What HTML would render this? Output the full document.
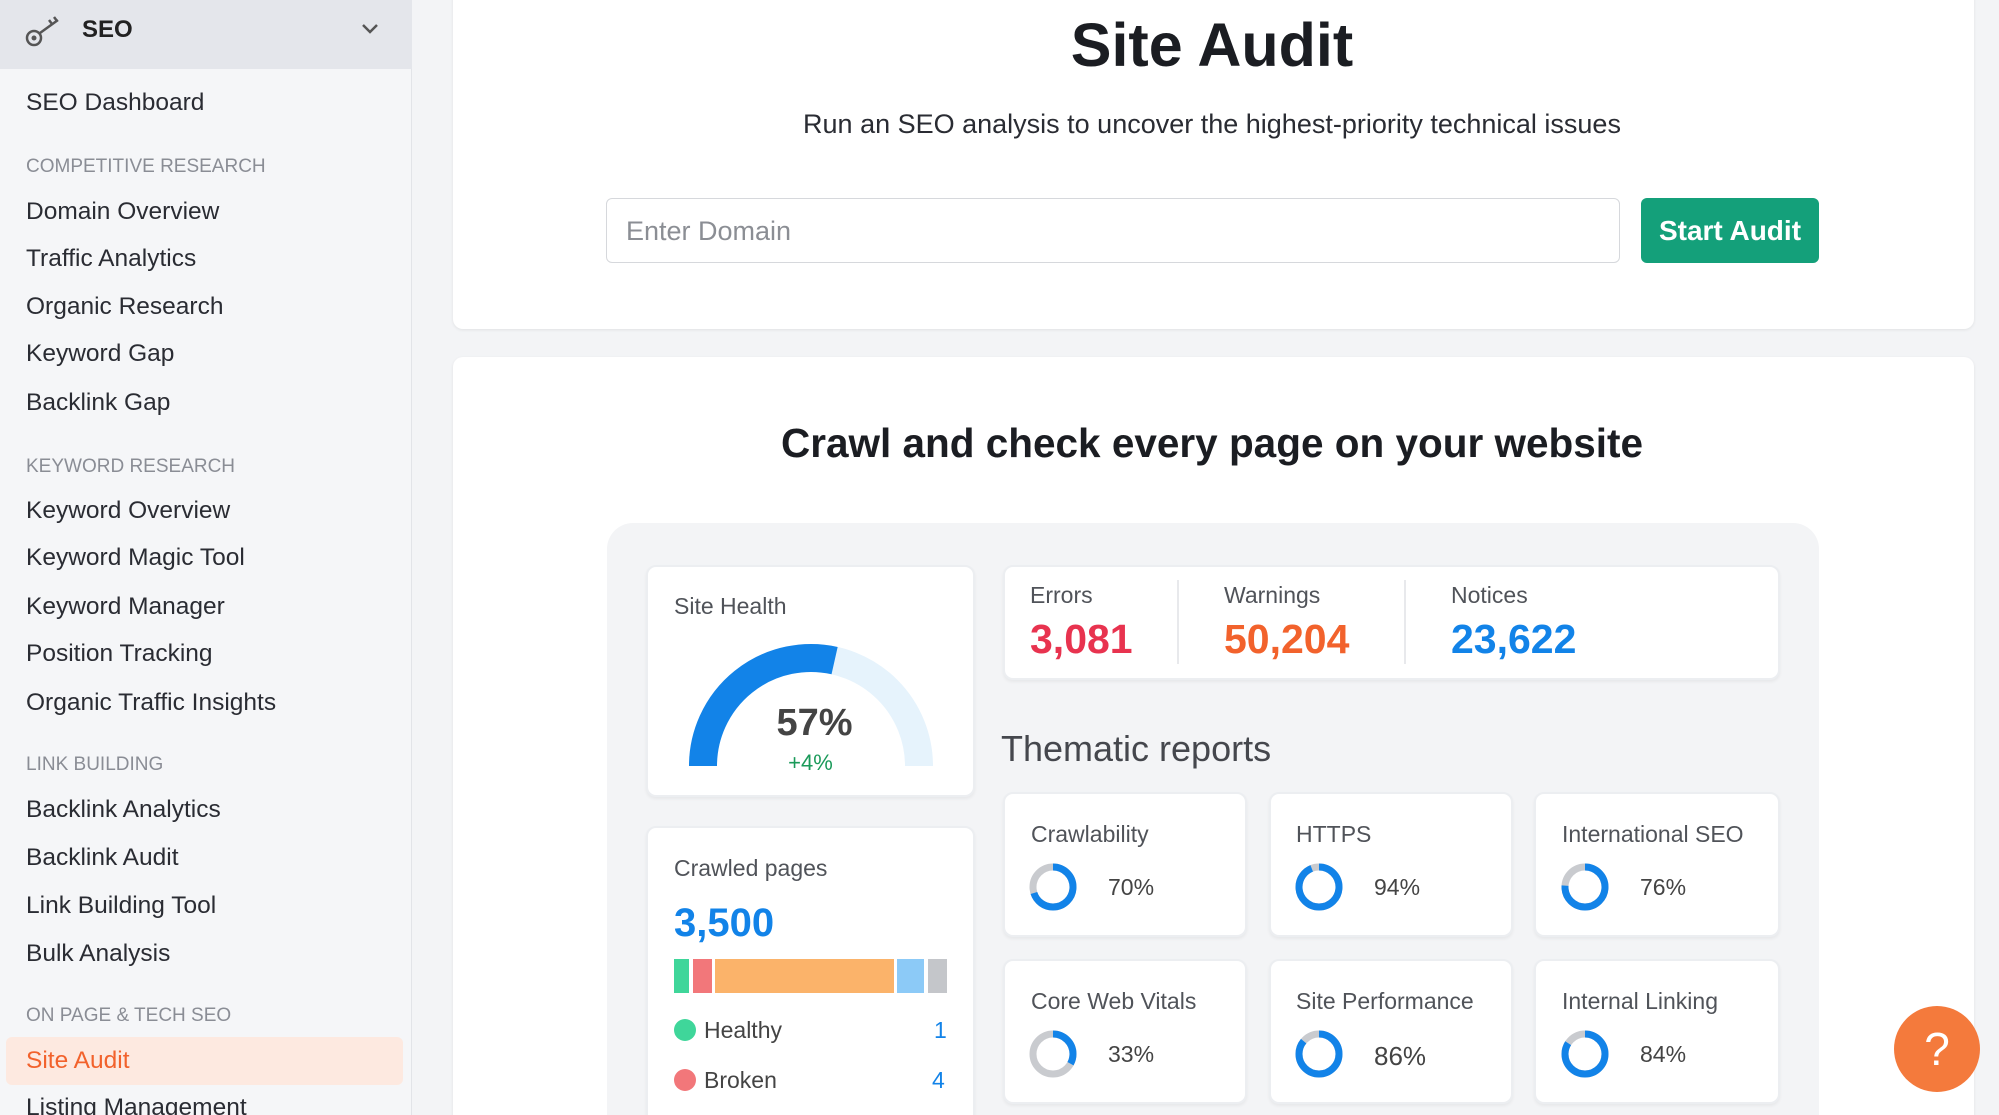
<!DOCTYPE html>
<html style="width:1999px;height:1115px;overflow:hidden"><head><meta charset="utf-8"><style>
*{margin:0;padding:0;box-sizing:border-box}
body{width:1999px;height:1115px;overflow:hidden;background:#f3f4f6;font-family:"Liberation Sans",sans-serif;color:#1f2127;position:relative}
.a{position:absolute;white-space:nowrap}
.side{position:absolute;left:0;top:0;width:412px;height:1115px;background:#f5f6f8;border-right:1px solid #e2e4e8}
.si{position:absolute;left:26px;font-size:24.5px;color:#2a2c33;transform:translateY(-50%)}
.sh{position:absolute;left:26px;font-size:19px;color:#8a8d95;transform:translateY(-50%)}
.card{position:absolute;background:#fff;border-radius:10px;box-shadow:0 1px 3px rgba(0,0,0,.08)}
.ic{position:absolute;background:#fff;border-radius:10px;border:2px solid #eceef1;box-shadow:0 2px 3px rgba(0,0,0,.05)}
.lbl{font-size:23px;color:#505359}
</style></head><body>
<div class="side">
 <div style="position:absolute;left:0;top:0;width:412px;height:69px;background:#e4e6eb"></div>
 <svg class="a" style="left:24px;top:12px" width="40" height="36" viewBox="0 0 40 36"><circle cx="10" cy="26" r="7" fill="none" stroke="#555" stroke-width="2.5"/><circle cx="10" cy="26" r="2.5" fill="#555"/><path d="M16 21 L34 8 M28 12 l-3 -4 M33 9 l-3 -4" stroke="#555" stroke-width="2.5" fill="none"/></svg>
 <div class="a" style="left:82px;top:16px;font-size:24px;font-weight:bold;color:#222">SEO</div>
 <svg class="a" style="left:360px;top:22px" width="20" height="14"><path d="M3 3 L10 10 L17 3" stroke="#555" stroke-width="2.5" fill="none"/></svg>
 <div class="si" style="top:103px">SEO Dashboard</div>
 <div class="sh" style="top:167px">COMPETITIVE RESEARCH</div>
 <div class="si" style="top:212px">Domain Overview</div>
 <div class="si" style="top:259px">Traffic Analytics</div>
 <div class="si" style="top:307px">Organic Research</div>
 <div class="si" style="top:354px">Keyword Gap</div>
 <div class="si" style="top:403px">Backlink Gap</div>
 <div class="sh" style="top:467px">KEYWORD RESEARCH</div>
 <div class="si" style="top:511px">Keyword Overview</div>
 <div class="si" style="top:558px">Keyword Magic Tool</div>
 <div class="si" style="top:607px">Keyword Manager</div>
 <div class="si" style="top:654px">Position Tracking</div>
 <div class="si" style="top:703px">Organic Traffic Insights</div>
 <div class="sh" style="top:765px">LINK BUILDING</div>
 <div class="si" style="top:810px">Backlink Analytics</div>
 <div class="si" style="top:858px">Backlink Audit</div>
 <div class="si" style="top:906px">Link Building Tool</div>
 <div class="si" style="top:954px">Bulk Analysis</div>
 <div class="sh" style="top:1016px">ON PAGE &amp; TECH SEO</div>
 <div style="position:absolute;left:6px;top:1037px;width:397px;height:48px;background:#fde9e0;border-radius:6px"></div>
 <div class="si" style="top:1061px;color:#f2622c">Site Audit</div>
 <div class="si" style="top:1108px">Listing Management</div>
</div>

<div class="card" style="left:453px;top:-10px;width:1521px;height:339px"></div>
<div class="a" style="left:0;width:2424px;text-align:center;top:10px;font-size:61px;font-weight:bold;color:#1b1d22">Site Audit</div>
<div class="a" style="left:0;width:2424px;text-align:center;top:109px;font-size:27px;color:#2a2c33">Run an SEO analysis to uncover the highest-priority technical issues</div>
<div class="a" style="left:606px;top:198px;width:1014px;height:65px;border:1.5px solid #d6d8dc;border-radius:6px;background:#fff"></div>
<div class="a" style="left:626px;top:216px;font-size:27px;color:#8b8e94">Enter Domain</div>
<div class="a" style="left:1641px;top:198px;width:178px;height:65px;background:#14a07a;border-radius:6px;color:#fff;font-size:28px;font-weight:bold;text-align:center;line-height:65px">Start Audit</div>

<div class="card" style="left:453px;top:357px;width:1521px;height:770px"></div>
<div class="a" style="left:0;width:2424px;text-align:center;top:420px;font-size:40.5px;font-weight:bold;color:#1b1d22">Crawl and check every page on your website</div>
<div class="a" style="left:607px;top:523px;width:1212px;height:620px;background:#f3f4f6;border-radius:26px"></div>

<div class="ic" style="left:646px;top:565px;width:329px;height:232px"></div>
<div class="a lbl" style="left:674px;top:593px">Site Health</div>
<svg class="a" style="left:646px;top:565px" width="329" height="232">
 <path d="M57 201 A108 108 0 0 1 273 201" fill="none" stroke="#e6f3fc" stroke-width="28"/>
 <path d="M57 201 A108 108 0 0 1 188.6 95.6" fill="none" stroke="#1283e8" stroke-width="28"/>
</svg>
<div class="a" style="left:646px;width:329px;text-align:center;top:702px;font-size:38px;color:#444;font-weight:bold;padding-left:8px">57%</div>
<div class="a" style="left:646px;width:329px;text-align:center;top:750px;font-size:22px;color:#1b9a5a">+4%</div>

<div class="ic" style="left:646px;top:826px;width:329px;height:320px"></div>
<div class="a lbl" style="left:674px;top:855px">Crawled pages</div>
<div class="a" style="left:674px;top:901px;font-size:40px;font-weight:bold;color:#1283e8">3,500</div>
<div class="a" style="left:674px;top:959px;width:15px;height:34px;background:#3fd69a"></div>
<div class="a" style="left:693px;top:959px;width:19px;height:34px;background:#f2777a"></div>
<div class="a" style="left:715px;top:959px;width:179px;height:34px;background:#fbb36a"></div>
<div class="a" style="left:897px;top:959px;width:27px;height:34px;background:#8ccaf7"></div>
<div class="a" style="left:928px;top:959px;width:19px;height:34px;background:#c4c6ca"></div>
<div class="a" style="left:674px;top:1019px;width:22px;height:22px;border-radius:50%;background:#3fd69a"></div>
<div class="a lbl" style="left:704px;top:1017px;color:#444">Healthy</div>
<div class="a" style="left:934px;top:1017px;font-size:23px;color:#1283e8">1</div>
<div class="a" style="left:674px;top:1069px;width:22px;height:22px;border-radius:50%;background:#f2777a"></div>
<div class="a lbl" style="left:704px;top:1067px;color:#444">Broken</div>
<div class="a" style="left:932px;top:1067px;font-size:23px;color:#1283e8">4</div>

<div class="ic" style="left:1003px;top:565px;width:777px;height:115px"></div>
<div class="a" style="left:1177px;top:580px;width:2px;height:84px;background:#e8e9ec"></div>
<div class="a" style="left:1404px;top:580px;width:2px;height:84px;background:#e8e9ec"></div>
<div class="a lbl" style="left:1030px;top:582px">Errors</div>
<div class="a lbl" style="left:1224px;top:582px">Warnings</div>
<div class="a lbl" style="left:1451px;top:582px">Notices</div>
<div class="a" style="left:1030px;top:616px;font-size:41px;font-weight:bold;color:#e8334f">3,081</div>
<div class="a" style="left:1224px;top:616px;font-size:41px;font-weight:bold;color:#f2622c">50,204</div>
<div class="a" style="left:1451px;top:616px;font-size:41px;font-weight:bold;color:#1283e8">23,622</div>

<div class="a" style="left:1001px;top:728px;font-size:36px;color:#45474d">Thematic reports</div>

<div class="ic" style="left:1003px;top:792px;width:244px;height:145px"></div>
<div class="ic" style="left:1269px;top:792px;width:244px;height:145px"></div>
<div class="ic" style="left:1534px;top:792px;width:246px;height:145px"></div>
<div class="ic" style="left:1003px;top:959px;width:244px;height:145px"></div>
<div class="ic" style="left:1269px;top:959px;width:244px;height:145px"></div>
<div class="ic" style="left:1534px;top:959px;width:246px;height:145px"></div>

<div class="a lbl" style="left:1031px;top:821px">Crawlability</div>
<div class="a lbl" style="left:1296px;top:821px">HTTPS</div>
<div class="a lbl" style="left:1562px;top:821px">International SEO</div>
<div class="a lbl" style="left:1031px;top:988px">Core Web Vitals</div>
<div class="a lbl" style="left:1296px;top:988px">Site Performance</div>
<div class="a lbl" style="left:1562px;top:988px">Internal Linking</div>

<svg class="a" style="left:0;top:0" width="1999" height="1115">
 <g fill="none" stroke-width="7">
  <circle cx="1053" cy="887" r="20" stroke="#c9cbcf"/><circle cx="1053" cy="887" r="20" stroke="#1283e8" stroke-dasharray="88 126" transform="rotate(-90 1053 887)"/>
  <circle cx="1319" cy="887" r="20" stroke="#c9cbcf"/><circle cx="1319" cy="887" r="20" stroke="#1283e8" stroke-dasharray="118 126" transform="rotate(-90 1319 887)"/>
  <circle cx="1585" cy="887" r="20" stroke="#c9cbcf"/><circle cx="1585" cy="887" r="20" stroke="#1283e8" stroke-dasharray="95.5 126" transform="rotate(-90 1585 887)"/>
  <circle cx="1053" cy="1054" r="20" stroke="#c9cbcf"/><circle cx="1053" cy="1054" r="20" stroke="#1283e8" stroke-dasharray="41.5 126" transform="rotate(-90 1053 1054)"/>
  <circle cx="1319" cy="1054" r="20" stroke="#c9cbcf"/><circle cx="1319" cy="1054" r="20" stroke="#1283e8" stroke-dasharray="108 126" transform="rotate(-90 1319 1054)"/>
  <circle cx="1585" cy="1054" r="20" stroke="#c9cbcf"/><circle cx="1585" cy="1054" r="20" stroke="#1283e8" stroke-dasharray="105.5 126" transform="rotate(-90 1585 1054)"/>
 </g>
</svg>
<div class="a" style="left:1108px;top:874px;font-size:23px;color:#444">70%</div>
<div class="a" style="left:1374px;top:874px;font-size:23px;color:#444">94%</div>
<div class="a" style="left:1640px;top:874px;font-size:23px;color:#444">76%</div>
<div class="a" style="left:1108px;top:1041px;font-size:23px;color:#444">33%</div>
<div class="a" style="left:1374px;top:1041px;font-size:26px;color:#444">86%</div>
<div class="a" style="left:1640px;top:1041px;font-size:23px;color:#444">84%</div>

<div class="a" style="left:1894px;top:1006px;width:86px;height:86px;border-radius:50%;background:#f47a3c;color:#fff;font-size:46px;text-align:center;line-height:86px">?</div>
</body></html>
